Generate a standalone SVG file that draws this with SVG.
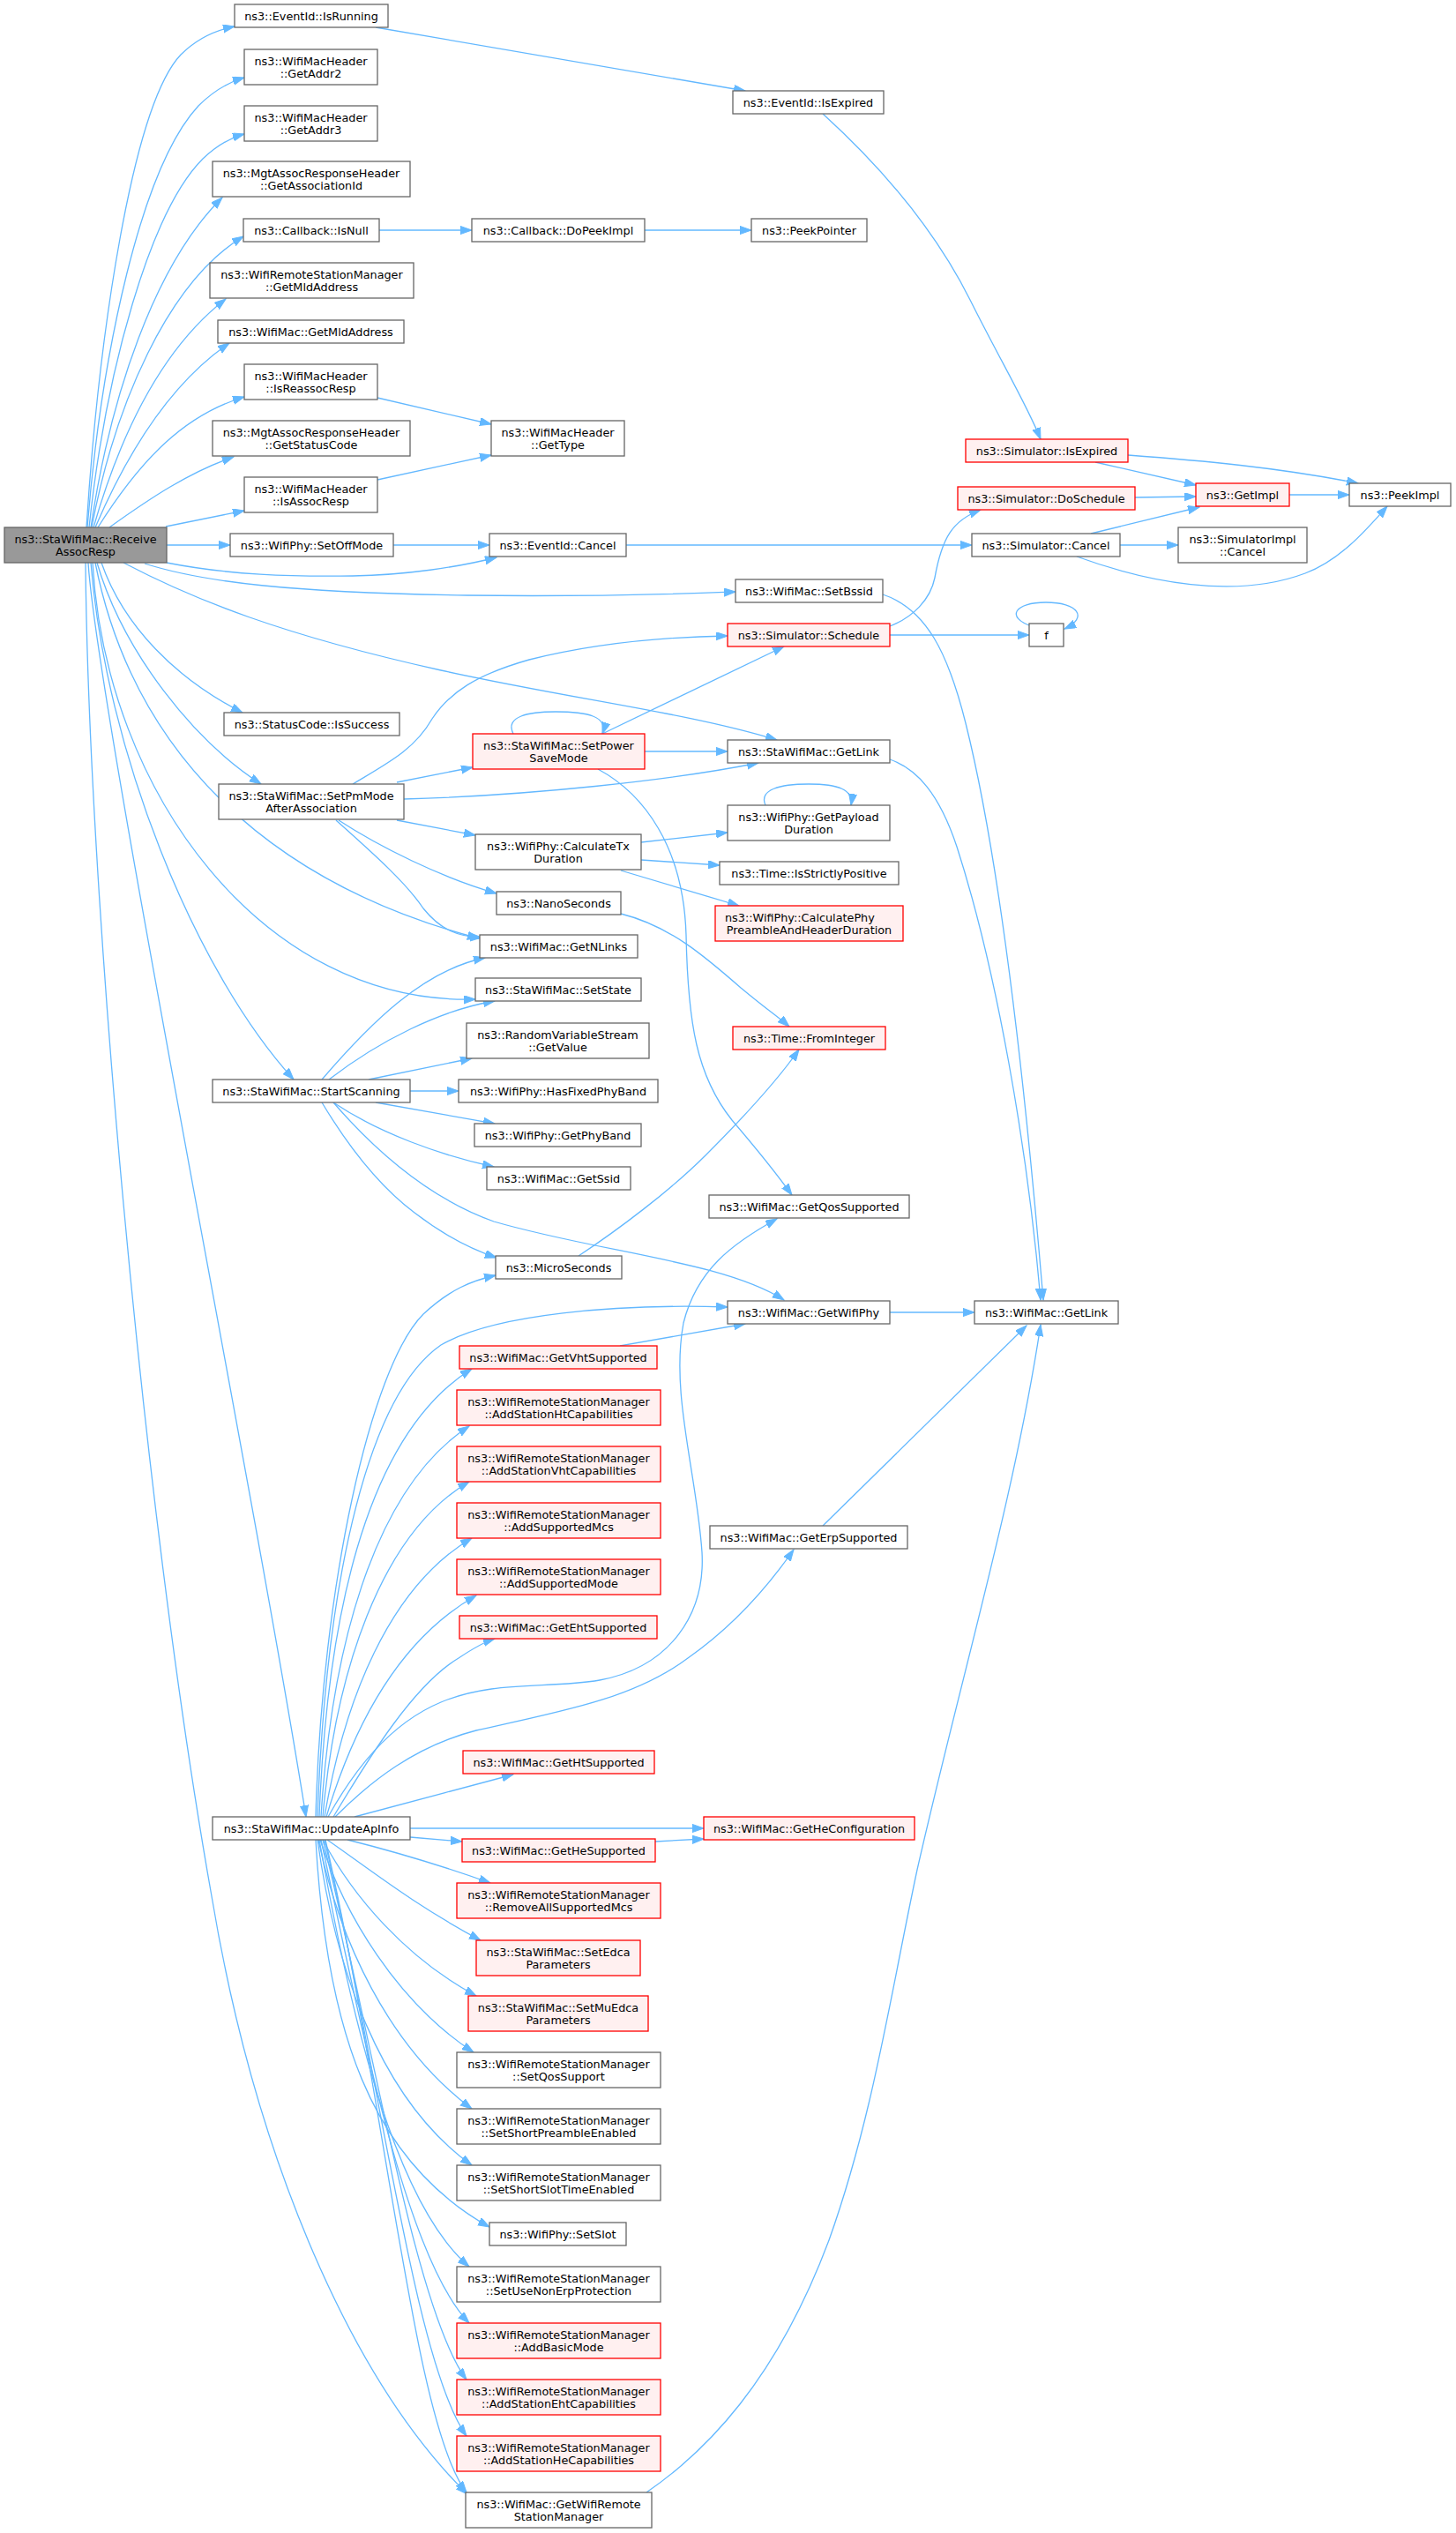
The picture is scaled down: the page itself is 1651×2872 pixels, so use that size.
<svg xmlns="http://www.w3.org/2000/svg" width="1651" height="2872" viewBox="0 0 1651 2872">
<style>
.n rect{fill:#ffffff;stroke:#666666;stroke-width:1.3}
.r rect{fill:#fff0f0;stroke:#ff0000;stroke-width:1.3}
.root rect{fill:#999999;stroke:#666666;stroke-width:1.3}
text{font-family:"DejaVu Sans","Liberation Sans",sans-serif;font-size:12.8px;text-anchor:middle;fill:#000000}
.e path{fill:none;stroke:#63b8ff;stroke-width:1.3;marker-end:url(#a)}
</style>
<defs>
<marker id="a" markerWidth="14" markerHeight="10" refX="13" refY="4.6" orient="auto" markerUnits="userSpaceOnUse"><path d="M0,0 L13,4.6 L0,9.2 z" fill="#63b8ff" stroke="#63b8ff" stroke-width="1"/></marker>
</defs>
<rect width="1651" height="2872" fill="#ffffff"/>
<g id="edges" class="e">
<path d="M98,598 C112,380 150,120 205,62 C225,42 245,34 266,30"/>
<path d="M99,598 C115,400 160,190 225,120 C243,102 260,93 277,88"/>
<path d="M101,598 C120,420 170,240 230,180 C248,163 262,156 277,152"/>
<path d="M103,598 C125,450 175,300 252,224"/>
<path d="M104,598 C130,460 190,320 276,268"/>
<path d="M106,598 C140,480 190,390 256,339"/>
<path d="M108,598 C150,500 200,430 260,389"/>
<path d="M111,598 C160,520 210,470 277,450"/>
<path d="M124,598 C170,565 215,535 265,518"/>
<path d="M188,597 L277,579"/>
<path d="M189,618 L261,618"/>
<path d="M189,638 C260,652 330,654 400,653 C460,652 520,643 563,632"/>
<path d="M164,639 C230,660 330,672 530,675 C680,677 780,673 834,671"/>
<path d="M140,638 C220,680 320,720 500,760 C650,793 780,808 881,839"/>
<path d="M115,638 C140,710 200,770 275,808"/>
<path d="M110,638 C140,740 220,840 296,889"/>
<path d="M108,638 C150,850 300,1000 543,1064"/>
<path d="M105,638 C120,900 300,1140 539,1133"/>
<path d="M103,638 C120,850 220,1100 333,1224"/>
<path d="M100,638 C110,800 290,1700 347,2060"/>
<path d="M97,638 C100,1000 160,1700 240,2150 C290,2450 400,2700 530,2828"/>
<path d="M426,31 L845,103"/>
<path d="M933,129 C1000,190 1060,260 1100,340 C1135,410 1165,460 1180,498"/>
<path d="M430,261 L535,261"/>
<path d="M731,261 L852,261"/>
<path d="M428,451 L557,481"/>
<path d="M428,544 L557,516"/>
<path d="M446,618 L555,618"/>
<path d="M710,618 L1102,618"/>
<path d="M1242,524 L1356,550"/>
<path d="M1279,516 C1360,522 1450,530 1540,548"/>
<path d="M1287,564 L1356,563"/>
<path d="M1462,561 L1530,561"/>
<path d="M1237,605 L1360,575"/>
<path d="M1270,618 L1336,618"/>
<path d="M1221,631 C1300,660 1400,680 1480,650 C1520,635 1550,600 1573,574"/>
<path d="M1009,710 C1035,700 1055,680 1060,655 C1068,610 1080,590 1112,578"/>
<path d="M1009,720 L1167,720"/>
<path d="M1170,710 C1140,700 1150,683 1186,683 C1222,683 1235,700 1207,713"/>
<path d="M1001,674 C1050,690 1075,740 1095,820 C1130,960 1160,1200 1183,1474"/>
<path d="M1009,861 C1040,872 1065,900 1085,960 C1130,1100 1165,1300 1180,1474"/>
<path d="M400,889 C440,865 470,850 490,815 C510,785 540,765 600,748 C680,728 760,722 825,721"/>
<path d="M450,887 L536,870"/>
<path d="M458,906 C600,902 760,885 860,865"/>
<path d="M450,930 L539,947"/>
<path d="M384,930 C430,960 500,995 563,1013"/>
<path d="M381,930 C420,965 460,1000 480,1030 C500,1055 520,1062 546,1063"/>
<path d="M683,832 L889,733"/>
<path d="M731,852 L825,852"/>
<path d="M582,832 C572,812 600,807 630,807 C665,807 690,812 683,832"/>
<path d="M678,872 C730,900 775,960 778,1060 C780,1160 790,1220 830,1270 C860,1305 880,1330 898,1355"/>
<path d="M727,955 L825,944"/>
<path d="M727,975 L816,981"/>
<path d="M704,987 L838,1027"/>
<path d="M868,913 C860,895 885,889 917,889 C950,889 968,895 965,913"/>
<path d="M704,1036 C760,1050 800,1085 840,1120 C870,1145 885,1155 895,1164"/>
<path d="M656,1424 C700,1395 760,1350 800,1310 C850,1260 885,1220 906,1190"/>
<path d="M365,1224 C420,1160 480,1100 550,1086"/>
<path d="M373,1224 C430,1180 500,1145 561,1135"/>
<path d="M418,1224 L535,1200"/>
<path d="M465,1237 L520,1237"/>
<path d="M426,1250 L561,1274"/>
<path d="M378,1250 C430,1285 500,1310 560,1323"/>
<path d="M365,1250 C395,1300 430,1345 470,1375 C500,1398 530,1415 563,1426"/>
<path d="M378,1250 C430,1310 490,1360 560,1385 C680,1420 820,1430 889,1474"/>
<path d="M402,2060 L582,2012"/>
<path d="M378,2060 C420,1990 470,1910 520,1880 C535,1870 548,1862 561,1858"/>
<path d="M370,2060 C400,1960 450,1860 540,1809"/>
<path d="M368,2060 C390,1930 440,1800 535,1744"/>
<path d="M366,2060 C380,1900 430,1740 532,1680"/>
<path d="M364,2060 C375,1880 420,1690 532,1617"/>
<path d="M362,2060 C370,1850 410,1630 535,1552"/>
<path d="M360,2060 C370,1780 420,1580 500,1525 C560,1490 700,1478 825,1482"/>
<path d="M358,2060 C365,1800 420,1550 480,1490 C510,1462 535,1452 562,1446"/>
<path d="M372,2060 C400,2010 440,1955 500,1930 C560,1905 620,1915 680,1905 C760,1890 800,1830 796,1760 C790,1670 760,1580 775,1500 C790,1440 830,1410 881,1382"/>
<path d="M380,2060 C420,2020 470,1980 540,1962 C640,1940 720,1925 780,1880 C830,1845 870,1800 900,1757"/>
<path d="M465,2073 L798,2073"/>
<path d="M465,2083 L524,2088"/>
<path d="M743,2088 L798,2085"/>
<path d="M394,2086 C450,2100 500,2115 556,2135"/>
<path d="M371,2086 C420,2120 470,2160 545,2200"/>
<path d="M366,2086 C400,2150 460,2220 540,2263"/>
<path d="M363,2086 C390,2170 450,2270 537,2327"/>
<path d="M361,2086 C385,2200 440,2320 535,2391"/>
<path d="M360,2086 C380,2230 430,2380 535,2455"/>
<path d="M358,2086 C370,2300 420,2450 555,2525"/>
<path d="M362,2086 C400,2300 450,2500 532,2570"/>
<path d="M364,2086 C410,2300 460,2560 532,2634"/>
<path d="M366,2086 C420,2300 470,2620 529,2698"/>
<path d="M368,2086 C430,2350 470,2680 529,2762"/>
<path d="M369,2086 C440,2400 470,2750 529,2826"/>
<path d="M703,1526 L845,1501"/>
<path d="M1009,1488 L1105,1488"/>
<path d="M933,1730 L1164,1503"/>
<path d="M733,2826 C800,2780 880,2700 940,2540 C990,2400 1010,2260 1040,2120 C1090,1900 1150,1700 1180,1502"/>
</g>
<g id="n0" class="root"><rect x="5" y="598" width="184" height="40"/><text x="97" y="615.5">ns3::StaWifiMac::Receive</text><text x="97" y="629.5">AssocResp</text></g>
<g id="n1" class="n"><rect x="266" y="5" width="174" height="26"/><text x="353" y="22.5">ns3::EventId::IsRunning</text></g>
<g id="n2" class="n"><rect x="277" y="56" width="151" height="40"/><text x="352.5" y="73.5">ns3::WifiMacHeader</text><text x="352.5" y="87.5">::GetAddr2</text></g>
<g id="n3" class="n"><rect x="277" y="120" width="151" height="40"/><text x="352.5" y="137.5">ns3::WifiMacHeader</text><text x="352.5" y="151.5">::GetAddr3</text></g>
<g id="n4" class="n"><rect x="241" y="183" width="224" height="40"/><text x="353" y="200.5">ns3::MgtAssocResponseHeader</text><text x="353" y="214.5">::GetAssociationId</text></g>
<g id="n5" class="n"><rect x="276" y="248" width="154" height="26"/><text x="353" y="265.5">ns3::Callback::IsNull</text></g>
<g id="n6" class="n"><rect x="238" y="298" width="231" height="40"/><text x="353.5" y="315.5">ns3::WifiRemoteStationManager</text><text x="353.5" y="329.5">::GetMldAddress</text></g>
<g id="n7" class="n"><rect x="247" y="363" width="211" height="26"/><text x="352.5" y="380.5">ns3::WifiMac::GetMldAddress</text></g>
<g id="n8" class="n"><rect x="277" y="413" width="151" height="40"/><text x="352.5" y="430.5">ns3::WifiMacHeader</text><text x="352.5" y="444.5">::IsReassocResp</text></g>
<g id="n9" class="n"><rect x="241" y="477" width="224" height="40"/><text x="353" y="494.5">ns3::MgtAssocResponseHeader</text><text x="353" y="508.5">::GetStatusCode</text></g>
<g id="n10" class="n"><rect x="277" y="541" width="151" height="40"/><text x="352.5" y="558.5">ns3::WifiMacHeader</text><text x="352.5" y="572.5">::IsAssocResp</text></g>
<g id="n11" class="n"><rect x="261" y="605" width="185" height="26"/><text x="353.5" y="622.5">ns3::WifiPhy::SetOffMode</text></g>
<g id="n12" class="n"><rect x="535" y="248" width="196" height="26"/><text x="633" y="265.5">ns3::Callback::DoPeekImpl</text></g>
<g id="n13" class="n"><rect x="557" y="477" width="151" height="40"/><text x="632.5" y="494.5">ns3::WifiMacHeader</text><text x="632.5" y="508.5">::GetType</text></g>
<g id="n14" class="n"><rect x="555" y="605" width="155" height="26"/><text x="632.5" y="622.5">ns3::EventId::Cancel</text></g>
<g id="n15" class="n"><rect x="831" y="103" width="171" height="26"/><text x="916.5" y="120.5">ns3::EventId::IsExpired</text></g>
<g id="n16" class="n"><rect x="852" y="248" width="131" height="26"/><text x="917.5" y="265.5">ns3::PeekPointer</text></g>
<g id="n17" class="r"><rect x="1095" y="498" width="184" height="26"/><text x="1187" y="515.5">ns3::Simulator::IsExpired</text></g>
<g id="n18" class="r"><rect x="1356" y="548" width="106" height="26"/><text x="1409" y="565.5">ns3::GetImpl</text></g>
<g id="n19" class="n"><rect x="1530" y="548" width="115" height="26"/><text x="1587.5" y="565.5">ns3::PeekImpl</text></g>
<g id="n20" class="r"><rect x="1086" y="552" width="201" height="26"/><text x="1186.5" y="569.5">ns3::Simulator::DoSchedule</text></g>
<g id="n21" class="n"><rect x="1102" y="605" width="168" height="26"/><text x="1186" y="622.5">ns3::Simulator::Cancel</text></g>
<g id="n22" class="n"><rect x="1336" y="598" width="146" height="40"/><text x="1409" y="615.5">ns3::SimulatorImpl</text><text x="1409" y="629.5">::Cancel</text></g>
<g id="n23" class="n"><rect x="834" y="657" width="167" height="26"/><text x="917.5" y="674.5">ns3::WifiMac::SetBssid</text></g>
<g id="n24" class="n"><rect x="254" y="808" width="199" height="26"/><text x="353.5" y="825.5">ns3::StatusCode::IsSuccess</text></g>
<g id="n25" class="n"><rect x="248" y="889" width="210" height="40"/><text x="353" y="906.5">ns3::StaWifiMac::SetPmMode</text><text x="353" y="920.5">AfterAssociation</text></g>
<g id="n26" class="r"><rect x="536" y="832" width="195" height="40"/><text x="633.5" y="849.5">ns3::StaWifiMac::SetPower</text><text x="633.5" y="863.5">SaveMode</text></g>
<g id="n27" class="n"><rect x="539" y="946" width="188" height="40"/><text x="633" y="963.5">ns3::WifiPhy::CalculateTx</text><text x="633" y="977.5">Duration</text></g>
<g id="n28" class="n"><rect x="563" y="1011" width="141" height="26"/><text x="633.5" y="1028.5">ns3::NanoSeconds</text></g>
<g id="n29" class="n"><rect x="544" y="1060" width="179" height="26"/><text x="633.5" y="1077.5">ns3::WifiMac::GetNLinks</text></g>
<g id="n30" class="n"><rect x="539" y="1109" width="188" height="26"/><text x="633" y="1126.5">ns3::StaWifiMac::SetState</text></g>
<g id="n31" class="n"><rect x="529" y="1160" width="207" height="40"/><text x="632.5" y="1177.5">ns3::RandomVariableStream</text><text x="632.5" y="1191.5">::GetValue</text></g>
<g id="n32" class="n"><rect x="241" y="1224" width="224" height="26"/><text x="353" y="1241.5">ns3::StaWifiMac::StartScanning</text></g>
<g id="n33" class="n"><rect x="520" y="1224" width="226" height="26"/><text x="633" y="1241.5">ns3::WifiPhy::HasFixedPhyBand</text></g>
<g id="n34" class="n"><rect x="538" y="1274" width="189" height="26"/><text x="632.5" y="1291.5">ns3::WifiPhy::GetPhyBand</text></g>
<g id="n35" class="n"><rect x="552" y="1323" width="163" height="26"/><text x="633.5" y="1340.5">ns3::WifiMac::GetSsid</text></g>
<g id="n36" class="r"><rect x="825" y="707" width="184" height="26"/><text x="917" y="724.5">ns3::Simulator::Schedule</text></g>
<g id="n37" class="n"><rect x="1167" y="707" width="39" height="26"/><text x="1186.5" y="724.5">f</text></g>
<g id="n38" class="n"><rect x="825" y="839" width="184" height="26"/><text x="917" y="856.5">ns3::StaWifiMac::GetLink</text></g>
<g id="n39" class="n"><rect x="825" y="913" width="184" height="40"/><text x="917" y="930.5">ns3::WifiPhy::GetPayload</text><text x="917" y="944.5">Duration</text></g>
<g id="n40" class="n"><rect x="816" y="977" width="203" height="26"/><text x="917.5" y="994.5">ns3::Time::IsStrictlyPositive</text></g>
<g id="n41" class="r"><rect x="811" y="1027" width="213" height="40"/><text x="822" y="1044.5" style="text-anchor:start">ns3::WifiPhy::CalculatePhy</text><text x="917.5" y="1058.5">PreambleAndHeaderDuration</text></g>
<g id="n42" class="r"><rect x="831" y="1164" width="173" height="26"/><text x="917.5" y="1181.5">ns3::Time::FromInteger</text></g>
<g id="n43" class="n"><rect x="804" y="1355" width="227" height="26"/><text x="917.5" y="1372.5">ns3::WifiMac::GetQosSupported</text></g>
<g id="n44" class="n"><rect x="562" y="1424" width="143" height="26"/><text x="633.5" y="1441.5">ns3::MicroSeconds</text></g>
<g id="n45" class="r"><rect x="521" y="1526" width="224" height="26"/><text x="633" y="1543.5">ns3::WifiMac::GetVhtSupported</text></g>
<g id="n46" class="r"><rect x="518" y="1576" width="231" height="40"/><text x="633.5" y="1593.5">ns3::WifiRemoteStationManager</text><text x="633.5" y="1607.5">::AddStationHtCapabilities</text></g>
<g id="n47" class="r"><rect x="518" y="1640" width="231" height="40"/><text x="633.5" y="1657.5">ns3::WifiRemoteStationManager</text><text x="633.5" y="1671.5">::AddStationVhtCapabilities</text></g>
<g id="n48" class="r"><rect x="518" y="1704" width="231" height="40"/><text x="633.5" y="1721.5">ns3::WifiRemoteStationManager</text><text x="633.5" y="1735.5">::AddSupportedMcs</text></g>
<g id="n49" class="r"><rect x="518" y="1768" width="231" height="40"/><text x="633.5" y="1785.5">ns3::WifiRemoteStationManager</text><text x="633.5" y="1799.5">::AddSupportedMode</text></g>
<g id="n50" class="r"><rect x="521" y="1832" width="224" height="26"/><text x="633" y="1849.5">ns3::WifiMac::GetEhtSupported</text></g>
<g id="n51" class="r"><rect x="525" y="1985" width="217" height="26"/><text x="633.5" y="2002.5">ns3::WifiMac::GetHtSupported</text></g>
<g id="n52" class="n"><rect x="825" y="1475" width="184" height="26"/><text x="917" y="1492.5">ns3::WifiMac::GetWifiPhy</text></g>
<g id="n53" class="n"><rect x="1105" y="1475" width="163" height="26"/><text x="1186.5" y="1492.5">ns3::WifiMac::GetLink</text></g>
<g id="n54" class="n"><rect x="805" y="1730" width="224" height="26"/><text x="917" y="1747.5">ns3::WifiMac::GetErpSupported</text></g>
<g id="n55" class="n"><rect x="241" y="2060" width="224" height="26"/><text x="353" y="2077.5">ns3::StaWifiMac::UpdateApInfo</text></g>
<g id="n56" class="r"><rect x="524" y="2085" width="219" height="26"/><text x="633.5" y="2102.5">ns3::WifiMac::GetHeSupported</text></g>
<g id="n57" class="r"><rect x="518" y="2135" width="231" height="40"/><text x="633.5" y="2152.5">ns3::WifiRemoteStationManager</text><text x="633.5" y="2166.5">::RemoveAllSupportedMcs</text></g>
<g id="n58" class="r"><rect x="540" y="2200" width="186" height="40"/><text x="633" y="2217.5">ns3::StaWifiMac::SetEdca</text><text x="633" y="2231.5">Parameters</text></g>
<g id="n59" class="r"><rect x="531" y="2263" width="204" height="40"/><text x="633" y="2280.5">ns3::StaWifiMac::SetMuEdca</text><text x="633" y="2294.5">Parameters</text></g>
<g id="n60" class="n"><rect x="518" y="2327" width="231" height="40"/><text x="633.5" y="2344.5">ns3::WifiRemoteStationManager</text><text x="633.5" y="2358.5">::SetQosSupport</text></g>
<g id="n61" class="n"><rect x="518" y="2391" width="231" height="40"/><text x="633.5" y="2408.5">ns3::WifiRemoteStationManager</text><text x="633.5" y="2422.5">::SetShortPreambleEnabled</text></g>
<g id="n62" class="n"><rect x="518" y="2455" width="231" height="40"/><text x="633.5" y="2472.5">ns3::WifiRemoteStationManager</text><text x="633.5" y="2486.5">::SetShortSlotTimeEnabled</text></g>
<g id="n63" class="n"><rect x="555" y="2520" width="155" height="26"/><text x="632.5" y="2537.5">ns3::WifiPhy::SetSlot</text></g>
<g id="n64" class="n"><rect x="518" y="2570" width="231" height="40"/><text x="633.5" y="2587.5">ns3::WifiRemoteStationManager</text><text x="633.5" y="2601.5">::SetUseNonErpProtection</text></g>
<g id="n65" class="r"><rect x="518" y="2634" width="231" height="40"/><text x="633.5" y="2651.5">ns3::WifiRemoteStationManager</text><text x="633.5" y="2665.5">::AddBasicMode</text></g>
<g id="n66" class="r"><rect x="518" y="2698" width="231" height="40"/><text x="633.5" y="2715.5">ns3::WifiRemoteStationManager</text><text x="633.5" y="2729.5">::AddStationEhtCapabilities</text></g>
<g id="n67" class="r"><rect x="518" y="2762" width="231" height="40"/><text x="633.5" y="2779.5">ns3::WifiRemoteStationManager</text><text x="633.5" y="2793.5">::AddStationHeCapabilities</text></g>
<g id="n68" class="n"><rect x="528" y="2826" width="211" height="40"/><text x="633.5" y="2843.5">ns3::WifiMac::GetWifiRemote</text><text x="633.5" y="2857.5">StationManager</text></g>
<g id="n69" class="r"><rect x="798" y="2060" width="239" height="26"/><text x="917.5" y="2077.5">ns3::WifiMac::GetHeConfiguration</text></g>
</svg>
